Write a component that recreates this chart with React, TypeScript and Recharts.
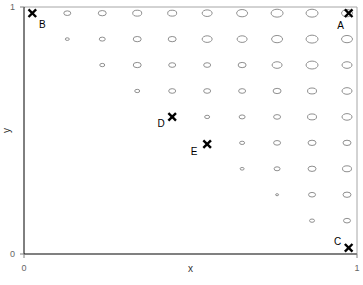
import { ScatterChart, Scatter, XAxis, YAxis, ReferenceLine } from "recharts";

// grid positions of the bubbles
const colX = [0.025, 0.13, 0.235, 0.34, 0.445, 0.55, 0.655, 0.76, 0.865, 0.97];
const rowY = [0.975, 0.87, 0.765, 0.66, 0.555, 0.45, 0.345, 0.24, 0.135, 0.03];

// bubble value per row (top row first), null = no bubble
const bubbleRows: (number | null)[][] = [
  [null, 7, 8, 9, 9, 10, 11, 12, 12, 11],
  [null, 4, 6, 8, 8, 10, 10, 11, 12, 11],
  [null, null, 5, 8, 7, 7, 8, 10, 12, 10],
  [null, null, null, 5, 7, 7, 7, 8, 9, 10],
  [null, null, null, null, null, 5, 6, 7, 9, 10],
  [null, null, null, null, null, null, 5, 7, 8, 8],
  [null, null, null, null, null, null, 4, 6, 8, 9],
  [null, null, null, null, null, null, null, 3, 7, 8],
  [null, null, null, null, null, null, null, null, 5, 7],
  [null, null, null, null, null, null, null, null, null, null],
];

// labelled points
const markerNames = ["A", "B", "C", "D", "E"];
const markerX = [0.975, 0.025, 0.975, 0.445, 0.55];
const markerY = [0.975, 0.975, 0.025, 0.555, 0.445];

const bubbles = bubbleRows.flatMap((row, r) =>
  row
    .map((z, c) => (z == null ? null : { x: colX[c], y: rowY[r], z }))
    .filter((p): p is { x: number; y: number; z: number } => p !== null)
);

const markers = markerNames.map((name, i) => ({ x: markerX[i], y: markerY[i], name }));

// where each letter sits relative to its cross
const labelOffset: Record<string, [number, number]> = {
  A: [-8, 12],
  B: [10, 11],
  C: [-11, -6],
  D: [-11, 7],
  E: [-13, 7],
};

// eslint-disable-next-line @typescript-eslint/no-explicit-any
function Bubble({ cx, cy, payload }: any) {
  const w = payload.z as number;
  return (
    <ellipse
      cx={cx}
      cy={cy}
      rx={w / 2}
      ry={Math.max(1, w * 0.33)}
      fill="#fff"
      stroke="#8f8f8f"
      strokeWidth={1}
    />
  );
}

// eslint-disable-next-line @typescript-eslint/no-explicit-any
function Cross({ cx, cy, payload }: any) {
  const s = 3.8;
  const [dx, dy] = labelOffset[payload.name] ?? [0, 0];
  return (
    <g>
      <g stroke="#000" strokeWidth={2.4}>
        <line x1={cx - s} y1={cy - s} x2={cx + s} y2={cy + s} />
        <line x1={cx - s} y1={cy + s} x2={cx + s} y2={cy - s} />
      </g>
      <text
        x={cx + dx}
        y={cy + dy}
        textAnchor="middle"
        dominantBaseline="central"
        fontSize={10}
        fill="#000"
      >
        {payload.name}
      </text>
    </g>
  );
}

export default function App() {
  return (
    <div style={{ position: "absolute", left: 0, top: 0, fontFamily: "'Liberation Sans', Arial, sans-serif" }}>
      <ScatterChart width={363} height={285} margin={{ top: 7, right: 6, bottom: 0, left: 0 }}>
        <XAxis
          type="number"
          dataKey="x"
          domain={[0, 1]}
          ticks={[0, 1]}
          height={31}
          axisLine={{ stroke: "#808080", strokeWidth: 2 }}
          tickLine={{ stroke: "#808080" }}
          tickSize={4}
          tickMargin={7}
          tick={{ fontSize: 9, fill: "#666" }}
          label={{ value: "x", position: "insideBottom", offset: 13, fontSize: 10, fill: "#333" }}
        />
        <YAxis
          type="number"
          dataKey="y"
          domain={[0, 1]}
          ticks={[0, 1]}
          width={24}
          axisLine={{ stroke: "#000" }}
          tickLine={{ stroke: "#808080" }}
          tickSize={4}
          tickMargin={5}
          tick={{ fontSize: 9, fill: "#666" }}
          label={{
            value: "y",
            angle: -90,
            position: "insideLeft",
            offset: 6,
            fontSize: 10,
            fill: "#333",
            style: { textAnchor: "middle" },
          }}
        />
        <ReferenceLine y={1} stroke="#a6a6a6" />
        <ReferenceLine x={1} stroke="#a6a6a6" />
        <Scatter data={bubbles} shape={Bubble} isAnimationActive={false} />
        <Scatter data={markers} shape={Cross} isAnimationActive={false} />
      </ScatterChart>
    </div>
  );
}
